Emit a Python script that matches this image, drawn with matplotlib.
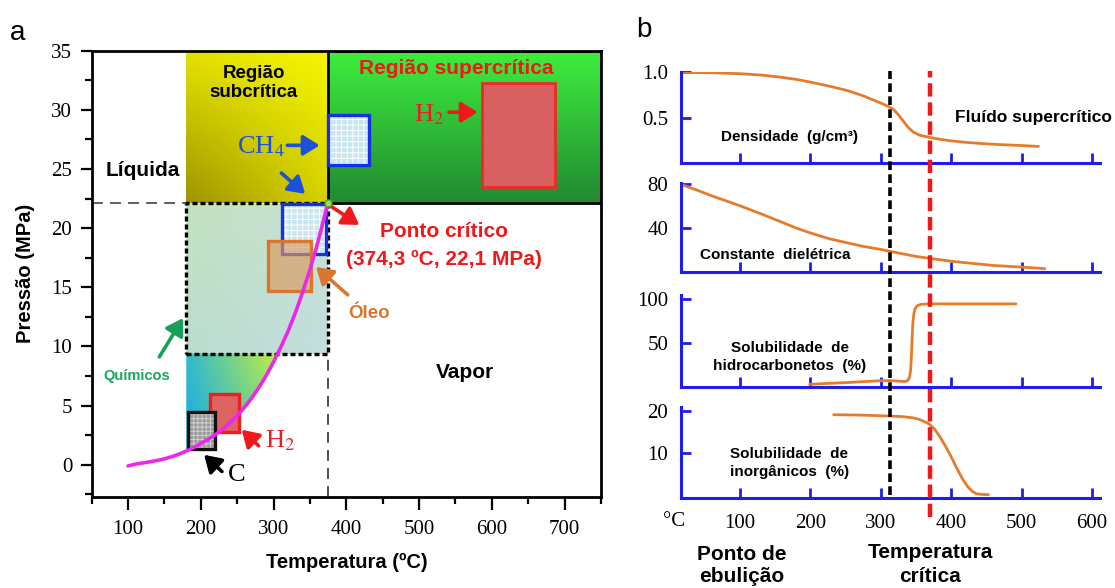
import numpy as np
import matplotlib
matplotlib.use("Agg")
import matplotlib.pyplot as plt
from matplotlib.patches import Rectangle, Polygon
from matplotlib.ticker import MultipleLocator

plt.rcParams["font.family"] = ["Liberation Serif", "DejaVu Serif"]
plt.rcParams["mathtext.fontset"] = "stix"
plt.rcParams["hatch.linewidth"] = 0.7
SANS = ["Liberation Sans", "DejaVu Sans"]

# ---------------- panel a: water phase diagram ----------------
sat_temp = [100, 110, 120, 130, 140, 150, 160, 170, 180, 190, 200, 210, 220, 230, 240,
            250, 260, 270, 280, 290, 300, 310, 320, 330, 340, 350, 360, 370, 374.3]
sat_pres = [-0.1, 0.05, 0.15, 0.25, 0.36, 0.5, 0.68, 0.9, 1.15, 1.45, 1.8, 2.15, 2.55, 3.0, 3.55,
            4.15, 4.85, 5.65, 6.55, 7.55, 8.7, 9.95, 11.3, 12.85, 14.6, 16.5, 18.6, 21.0, 22.1]
crit_T, crit_P = 374.3, 22.1
subcrit_T_min = 180
chem_P_min = 9.4

# process windows: (T min, T max, P min, P max)
ch4_low = (312, 372, 17.8, 22.0)
ch4_high = (374.3, 431, 25.3, 29.6)
h2_high = (587, 687, 23.5, 32.3)
oil_box = (292, 352, 14.7, 18.9)
h2_low = (213, 252, 2.8, 6.0)
carbon_box = (182, 219, 1.3, 4.5)

# ---------------- panel b: property curves ----------------
dens_T = [17, 60, 100, 130, 157, 180, 200, 225, 252, 275, 300, 310, 318, 325, 332, 339,
          346, 355, 369, 385, 400, 420, 441, 470, 500, 524]
dens_v = [1.0, 0.995, 0.985, 0.97, 0.947, 0.922, 0.892, 0.85, 0.80, 0.74, 0.66, 0.625,
          0.59, 0.53, 0.46, 0.39, 0.34, 0.305, 0.28, 0.258, 0.242, 0.226, 0.213, 0.2, 0.19, 0.18]
diel_T = [16, 40, 60, 80, 100, 130, 157, 180, 200, 225, 252, 275, 300, 330, 350, 369,
          400, 430, 460, 500, 533]
diel_v = [80, 74.5, 69.5, 65, 60.4, 53, 46, 40, 35.5, 30.5, 26.5, 23.2, 20.4, 16.5, 14,
          12.3, 9.6, 7.6, 5.7, 4.2, 2.8]
hc_T = [199, 250, 300, 315, 323, 330, 334, 337, 339, 341, 342.5, 343.5, 344.5, 345.5,
        347, 349, 352, 357, 369, 492]
hc_v = [3.4, 5.3, 7.4, 7.5, 7.1, 6.6, 6.5, 7, 8.5, 12, 20, 35, 55, 72, 83, 89, 92, 93.5, 94, 94]
inorg_T = [233, 270, 300, 330, 346, 355, 362, 369, 377, 384, 392, 400, 408, 417, 424,
           430, 436, 445, 453]
inorg_v = [19.05, 18.95, 18.8, 18.6, 18.3, 17.9, 17.4, 16.8, 15.5, 13.8, 11.5, 9.05, 6.3,
           3.5, 1.8, 0.8, 0.2, 0.05, 0.0]
boil_T = 313
crit_line_T = 370

W, H = 1115, 588
fig = plt.figure(figsize=(W / 100, H / 100), dpi=100)


def px_axes(left, top, right, bottom):
    return fig.add_axes([left / W, 1 - bottom / H, (right - left) / W, (bottom - top) / H])


def gradient(ax, extent, tl, tr, bl, br, clip=None, z=1):
    n = 80
    u = np.linspace(0, 1, n)[None, :, None]
    v = np.linspace(1, 0, n)[:, None, None]
    tl, tr, bl, br = [np.array(c, float) / 255 for c in (tl, tr, bl, br)]
    img = (1 - u) * v * tl + u * v * tr + (1 - u) * (1 - v) * bl + u * (1 - v) * br
    im = ax.imshow(img, extent=extent, origin="upper", aspect="auto",
                   interpolation="bilinear", zorder=z)
    if clip is not None:
        im.set_clip_path(clip)
    return im


def arrow(ax, tail, head, color, lw=2.6):
    ax.annotate("", xy=head, xytext=tail,
                arrowprops=dict(arrowstyle="-|>,head_length=0.45,head_width=0.28",
                                color=color, lw=lw, mutation_scale=22,
                                shrinkA=0, shrinkB=0), zorder=8)


ax = px_axes(91.7, 50.7, 601, 496.7)
xmin, xmax, ymin, ymax = 50, 750, -2.7, 35

# subcritical (yellow) and supercritical (green) regions
gradient(ax, [subcrit_T_min, crit_T, crit_P, ymax],
         (228, 226, 0), (246, 246, 0), (158, 148, 0), (214, 210, 0), z=1)
gradient(ax, [crit_T, xmax, crit_P, ymax],
         (62, 238, 62), (62, 238, 62), (34, 138, 50), (34, 138, 50), z=1)
ax.add_patch(Rectangle((crit_T, crit_P), xmax - crit_T, ymax - crit_P,
                       fill=False, ec="black", lw=2, zorder=2))

# chemicals window (dotted square) with light fill
gradient(ax, [subcrit_T_min, crit_T, chem_P_min, crit_P],
         (196, 226, 192), (200, 226, 214), (186, 221, 206), (196, 222, 222), z=1)
ax.add_patch(Rectangle((subcrit_T_min, chem_P_min), crit_T - subcrit_T_min,
                       crit_P - chem_P_min, fill=False, ec="black", lw=2.4,
                       ls=(0, (1.5, 0.9)), zorder=3))

# coloured area below the chemicals window, bounded by the saturation curve
p_lo = np.interp(subcrit_T_min, sat_temp, sat_pres)
t_hi = np.interp(chem_P_min, sat_pres, sat_temp)
curve_T = [t for t in sat_temp if subcrit_T_min < t < t_hi]
curve_P = [p for t, p in zip(sat_temp, sat_pres) if subcrit_T_min < t < t_hi]
poly_pts = ([(subcrit_T_min, chem_P_min), (subcrit_T_min, p_lo)]
            + list(zip(curve_T, curve_P)) + [(t_hi, chem_P_min)])
clip_poly = Polygon(poly_pts, closed=True, transform=ax.transData)
gradient(ax, [subcrit_T_min, t_hi, p_lo, chem_P_min],
         (50, 186, 205), (196, 236, 70), (20, 170, 232), (120, 215, 120),
         clip=clip_poly, z=1)

# dashed guides
ax.plot([xmin, subcrit_T_min], [crit_P, crit_P], color="#505050", lw=1.3,
        ls=(0, (6, 4)), zorder=3)
ax.plot([crit_T, crit_T], [ymin, chem_P_min], color="#404040", lw=1.3,
        ls=(0, (6, 4)), zorder=3)


def box(b, fc, ec, lw=2.4, hatch=None, hatch_color="white", alpha=1.0, z=4):
    x0, x1, y0, y1 = b
    ax.add_patch(Rectangle((x0, y0), x1 - x0, y1 - y0, fc=fc, ec="none",
                           alpha=alpha, zorder=z))
    if hatch:
        ax.add_patch(Rectangle((x0, y0), x1 - x0, y1 - y0, fill=False,
                               ec=hatch_color, lw=0, hatch=hatch, zorder=z))
    ax.add_patch(Rectangle((x0, y0), x1 - x0, y1 - y0, fill=False, ec=ec,
                           lw=lw, zorder=z))


box(ch4_low, "#c8e6f0", "#1530e6", hatch="+++")
box(ch4_high, "#c8e6f0", "#1530e6", hatch="+++")
box(h2_high, "#d96060", "#f02828", lw=2)
box(oil_box, "#dc9a5e", "#d9772e", alpha=0.65, z=5)
box(h2_low, "#dc6464", "#f01e1e")
box(carbon_box, "#9a9a9a", "#111111", hatch="++++", hatch_color="#d0d0d0")

# saturation curve and critical point
ax.plot(sat_temp, sat_pres, color="#ea28ea", lw=2.6, zorder=7,
        solid_capstyle="round", solid_joinstyle="round")
ax.plot([crit_T], [crit_P], "o", ms=5, mfc="#9be04a", mec="#60a020", zorder=9)

# labels
bold = dict(family=SANS, fontweight="bold", ha="center", va="center", zorder=10)
ax.text(273, 32.26, "Região\nsubcrítica", fontsize=13.5, linespacing=1.2, **bold)
ax.text(551.7, 33.53, "Região supercrítica", fontsize=15, color="#f01818", **bold)
ax.text(119.6, 24.9, "Líquida", fontsize=15, **bold)
ax.text(534.7, 19.7, "Ponto crítico", fontsize=15, color="#f01818", **bold)
ax.text(534.7, 17.37, "(374,3 ºC, 22,1 MPa)", fontsize=15, color="#f01818", **bold)
ax.text(431.9, 12.75, "Óleo", fontsize=13.5, color="#d9772e", **bold)
ax.text(562.6, 7.77, "Vapor", fontsize=15, **bold)
ax.text(111.7, 7.5, "Químicos", fontsize=10.5, color="#18a85a", **bold)

serif = dict(ha="center", va="center", fontsize=19, zorder=10)
ax.text(282, 26.85, r"CH$_4$", color="#1e50dc", **serif)
ax.text(513.6, 29.6, r"H$_2$", color="#e62020", **serif)
ax.text(309, 2.0, r"H$_2$", color="#e62020", **serif)
ax.text(249.3, -0.85, "C", color="black", **serif)

arrow(ax, (319, 27.0), (363.3, 27.0), "#1e50dc")
arrow(ax, (310.7, 24.66), (343.4, 22.9), "#1e50dc")
arrow(ax, (541, 29.8), (580.5, 29.8), "#f01818")
arrow(ax, (377.5, 21.9), (417.8, 20.27), "#f01818")
arrow(ax, (401.9, 14.36), (358.3, 16.72), "#d9772e")
arrow(ax, (143, 9.12), (175.7, 12.4), "#18a05a")
arrow(ax, (279.4, 1.6), (256.2, 2.96), "#f01818")
arrow(ax, (229, -0.57), (204.4, 0.84), "black")

ax.set_xlim(xmin, xmax)
ax.set_ylim(ymin, ymax)
ax.xaxis.set_major_locator(MultipleLocator(100))
ax.xaxis.set_minor_locator(MultipleLocator(50))
ax.yaxis.set_major_locator(MultipleLocator(5))
ax.yaxis.set_minor_locator(MultipleLocator(2.5))
ax.set_xticks(range(100, 701, 100))
ax.tick_params(which="major", direction="out", length=9, width=1.6, labelsize=15, pad=8)
ax.tick_params(which="minor", direction="out", length=5, width=1.6)
ax.tick_params(axis="y", which="major", length=8, pad=6)
for s in ax.spines.values():
    s.set_linewidth(2)
    s.set_zorder(11)
ax.set_xlabel("Temperatura (ºC)", family=SANS, fontweight="bold", fontsize=14.5, labelpad=10)
ax.set_ylabel("Pressão (MPa)", family=SANS, fontweight="bold", fontsize=14.5, labelpad=12)

fig.text(18 / W, 1 - 33 / H, "a", family=SANS, fontsize=20, ha="center", va="center")
fig.text(644 / W, 1 - 30 / H, "b", family=SANS, fontsize=20, ha="center", va="center")

# ---------------- panel b ----------------
BLUE = "#1e1eeb"
ORANGE = "#e57c2b"
b_xlim = (15.8, 611.4)
rows = [
    ((71.7, 162.7), (0, 1.007), [0.5, 1.0], ["0.5", "1.0"], dens_T, dens_v),
    ((183.3, 271.7), (0, 81), [40, 80], ["40", "80"], diel_T, diel_v),
    ((295, 387.3), (0, 104), [50, 100], ["50", "100"], hc_T, hc_v),
    ((406.7, 498.3), (-0.86, 20.95), [10, 20], ["10", "20"], inorg_T, inorg_v),
]
b_axes = []
for i, ((top, bot), ylim, yt, ytl, xs, ys) in enumerate(rows):
    bx = px_axes(680.7, top, 1100, bot)
    bx.patch.set_alpha(0)
    bx.plot(xs, ys, color=ORANGE, lw=2, solid_joinstyle="round", solid_capstyle="round")
    bx.set_xlim(*b_xlim)
    bx.set_ylim(*ylim)
    bx.set_xticks(range(100, 601, 100))
    bx.set_yticks(yt)
    bx.set_yticklabels(ytl)
    bx.spines["top"].set_visible(False)
    bx.spines["right"].set_visible(False)
    for side in ("left", "bottom"):
        bx.spines[side].set_color(BLUE)
        bx.spines[side].set_linewidth(2.2)
    bx.tick_params(direction="in", length=7, width=2, color=BLUE, labelsize=15)
    bx.tick_params(axis="y", pad=9)
    bx.tick_params(axis="x", pad=11, labelbottom=(i == 3))
    b_axes.append(bx)

lab = dict(family=SANS, fontweight="bold", ha="center", va="center", fontsize=11)
b_axes[0].text(171, 0.281, "Densidade  (g/cm³)", **lab)
b_axes[0].text(405, 0.50, "Fluído supercrítico", family=SANS, fontweight="bold",
               ha="left", va="center", fontsize=12.5)
b_axes[1].text(150, 15.3, "Constante  dielétrica", **lab)
b_axes[2].text(171, 34.5, "Solubilidade  de\nhidrocarbonetos  (%)", linespacing=1.35, **lab)
b_axes[3].text(170, 7.54, "Solubilidade  de\ninorgânicos  (%)", linespacing=1.35, **lab)

# vertical markers spanning all four property plots
ov = px_axes(680.7, 70.7, 1100, 516.7)
ov.set_xlim(*b_xlim)
ov.set_ylim(0, 1)
ov.axis("off")
ov.plot([boil_T, boil_T], [0.0487, 1], color="black", lw=2.6, ls=(0, (2.4, 1.2)))
ov.plot([crit_line_T, crit_line_T], [0, 1], color="#f01818", lw=3.2, ls=(0, (3, 1.3)))

fig.text(674 / W, 1 - 521 / H, "°C", fontsize=15, ha="center", va="center")
bb = dict(family=SANS, fontweight="bold", fontsize=15, ha="center", va="center")
fig.text(741.7 / W, 1 - 554 / H, "Ponto de", **bb)
fig.text(741.7 / W, 1 - 577 / H, "ebulição", **bb)
fig.text(930 / W, 1 - 552.7 / H, "Temperatura", **bb)
fig.text(930 / W, 1 - 576 / H, "crítica", **bb)

fig.savefig("out.png", dpi=100)
